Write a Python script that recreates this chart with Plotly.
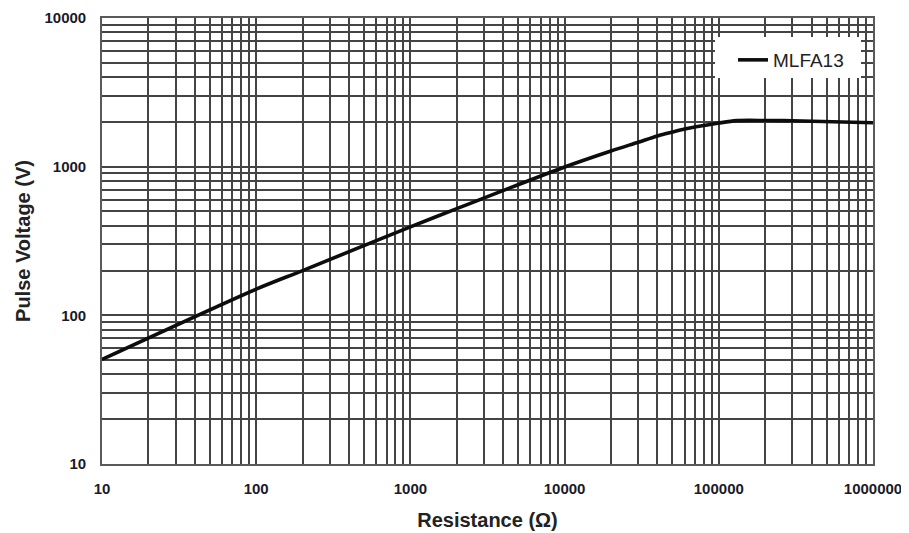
import plotly.graph_objects as go

resistance = [10, 100, 200, 1000, 2000, 10000, 20000, 30000, 40000, 50000, 60000, 80000, 100000, 130000, 200000, 300000, 1000000]
pulse_voltage = [50.5, 150, 200, 394, 522, 995, 1275, 1460, 1610, 1710, 1790, 1890, 1965, 2040, 2045, 2035, 1975]

x_decades = [10, 100, 1000, 10000, 100000, 1000000]
x_labels = ["10", "100", "1000", "10000", "100000", "1000000"]
y_decades = [10, 100, 1000, 10000]
y_labels = ["10", "100", "1000", "10000"]


def minor_vals(decades):
    vals = []
    for d in decades[:-1]:
        for m in range(2, 10):
            vals.append(d * m)
    return vals


fig = go.Figure()
fig.add_trace(go.Scatter(
    x=resistance, y=pulse_voltage, mode="lines", name="MLFA13",
    line=dict(color="#0d0d0d", width=3.6, shape="spline", smoothing=0.8),
))

grid_col = "rgb(68,68,68)"
font_fam = "Liberation Sans, Arial, sans-serif"

fig.update_xaxes(
    type="log", range=[1, 6], automargin=False,
    tickvals=x_decades, ticktext=["<b>%s</b>" % t for t in x_labels],
    showgrid=True, gridcolor=grid_col, gridwidth=1.5,
    minor=dict(tickvals=minor_vals(x_decades), showgrid=True, gridcolor=grid_col, gridwidth=1.5, ticklen=0),
    showline=True, linecolor="#5a5a5a", linewidth=1.6, mirror=True,
    ticks="", ticklabelstandoff=10,
    tickfont=dict(family=font_fam, size=15, color="#1a1a2a"),
    title=dict(text="<b>Resistance (Ω)</b>", font=dict(family=font_fam, size=20, color="#222222"), standoff=17),
    zeroline=False,
)
fig.update_yaxes(
    type="log", range=[1, 4], automargin=False,
    tickvals=y_decades, ticktext=["<b>%s</b>" % t for t in y_labels],
    showgrid=True, gridcolor=grid_col, gridwidth=1.5,
    minor=dict(tickvals=minor_vals(y_decades), showgrid=True, gridcolor=grid_col, gridwidth=1.5, ticklen=0),
    showline=True, linecolor="#5a5a5a", linewidth=1.6, mirror=True,
    ticks="", ticklabelstandoff=11,
    tickfont=dict(family=font_fam, size=15, color="#1a1a2a"),
    title=dict(text="<b>Pulse Voltage (V)</b>", font=dict(family=font_fam, size=20, color="#222222"), standoff=8),
    zeroline=False,
)

# white backdrop of the legend (covers the grid; the curve never enters this area)
fig.add_shape(type="rect", xref="paper", yref="paper",
              x0=(715 - 102) / 771, x1=(861 - 102) / 771,
              y0=(464 - 78) / 446, y1=(464 - 37) / 446,
              fillcolor="white", line=dict(width=0), layer="above")

fig.update_layout(
    width=901, height=525,
    margin=dict(l=94, r=36, t=10, b=69, autoexpand=False),
    paper_bgcolor="white", plot_bgcolor="white",
    showlegend=True,
    legend=dict(x=(733 - 102) / 771, y=(464 - 41) / 446, xanchor="left", yanchor="top",
                bgcolor="rgba(0,0,0,0)", borderwidth=0,
                font=dict(family=font_fam, size=19, color="#222222")),
)

fig.write_html("out.html")
